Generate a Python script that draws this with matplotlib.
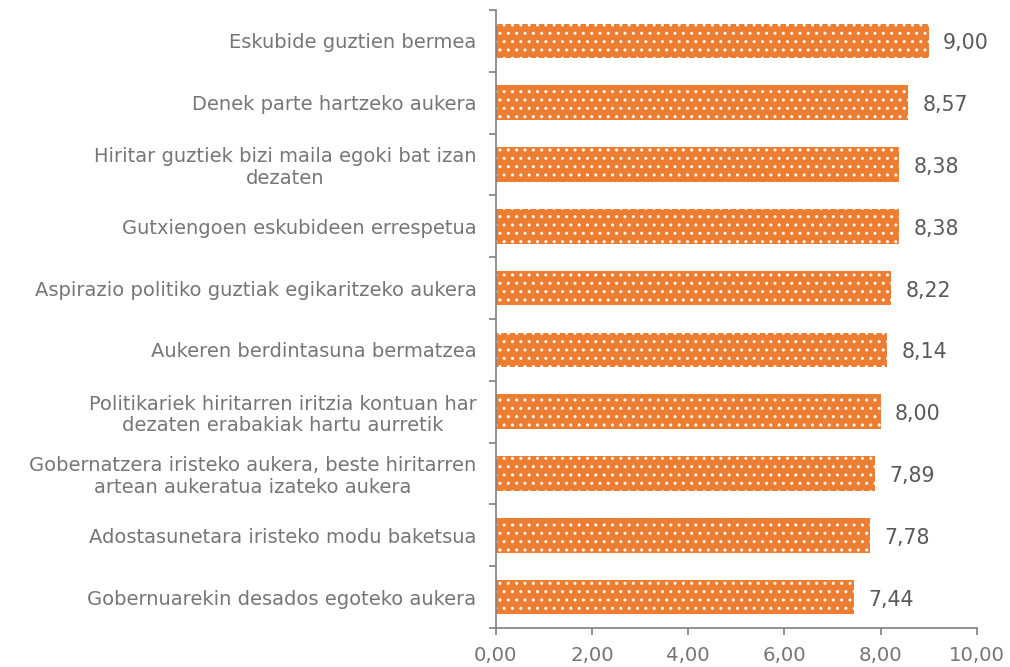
import matplotlib
matplotlib.use("Agg")
import matplotlib.pyplot as plt
import numpy as np

plt.rcParams['hatch.linewidth'] = 1.0

categories = [
    "Eskubide guztien bermea",
    "Denek parte hartzeko aukera",
    "Hiritar guztiek bizi maila egoki bat izan\ndezaten",
    "Gutxiengoen eskubideen errespetua",
    "Aspirazio politiko guztiak egikaritzeko aukera",
    "Aukeren berdintasuna bermatzea",
    "Politikariek hiritarren iritzia kontuan har\ndezaten erabakiak hartu aurretik",
    "Gobernatzera iristeko aukera, beste hiritarren\nartean aukeratua izateko aukera",
    "Adostasunetara iristeko modu baketsua",
    "Gobernuarekin desados egoteko aukera",
]
values = [9.00, 8.57, 8.38, 8.38, 8.22, 8.14, 8.00, 7.89, 7.78, 7.44]
xticks = [0, 2, 4, 6, 8, 10]

orange = "#ED7D31"
gray = "#595959"
label_gray = "#767676"
axis_gray = "#7F7F7F"

fig = plt.figure(figsize=(10.10, 6.67), dpi=100)
ax = fig.add_axes([0.491, 0.0585, 0.476, 0.9265])

y = np.arange(len(categories))
bars = ax.barh(y, values, height=0.56, color=orange, edgecolor="white",
               linewidth=0, hatch="..")
ax.set_ylim(len(categories) - 0.5, -0.5)
ax.set_xlim(0, 10)

for yi, v in zip(y, values):
    ax.text(v + 0.3, yi + 0.04, f"{v:.2f}".replace(".", ","), va="center", ha="left",
            fontsize=14.8, color=gray)

ax.set_yticks(y)
ax.set_yticklabels(categories, fontsize=14, color=label_gray, ha="right",
                   multialignment="center", linespacing=1.15)
ax.tick_params(axis="y", which="major", length=0, pad=14)
ax.set_yticks(np.arange(-0.5, len(categories), 1), minor=True)
ax.tick_params(axis="y", which="minor", length=5, color=axis_gray, width=1.2)

ax.set_xticks(xticks)
ax.set_xticklabels([f"{t:.2f}".replace(".", ",") for t in xticks],
                   fontsize=14.2, color=label_gray)
ax.tick_params(axis="x", length=5, color=axis_gray, width=1.2, pad=8)

for s in ["top", "right"]:
    ax.spines[s].set_visible(False)
for s in ["left", "bottom"]:
    ax.spines[s].set_color(axis_gray)
    ax.spines[s].set_linewidth(1.2)

fig.savefig("out.png", dpi=100)
